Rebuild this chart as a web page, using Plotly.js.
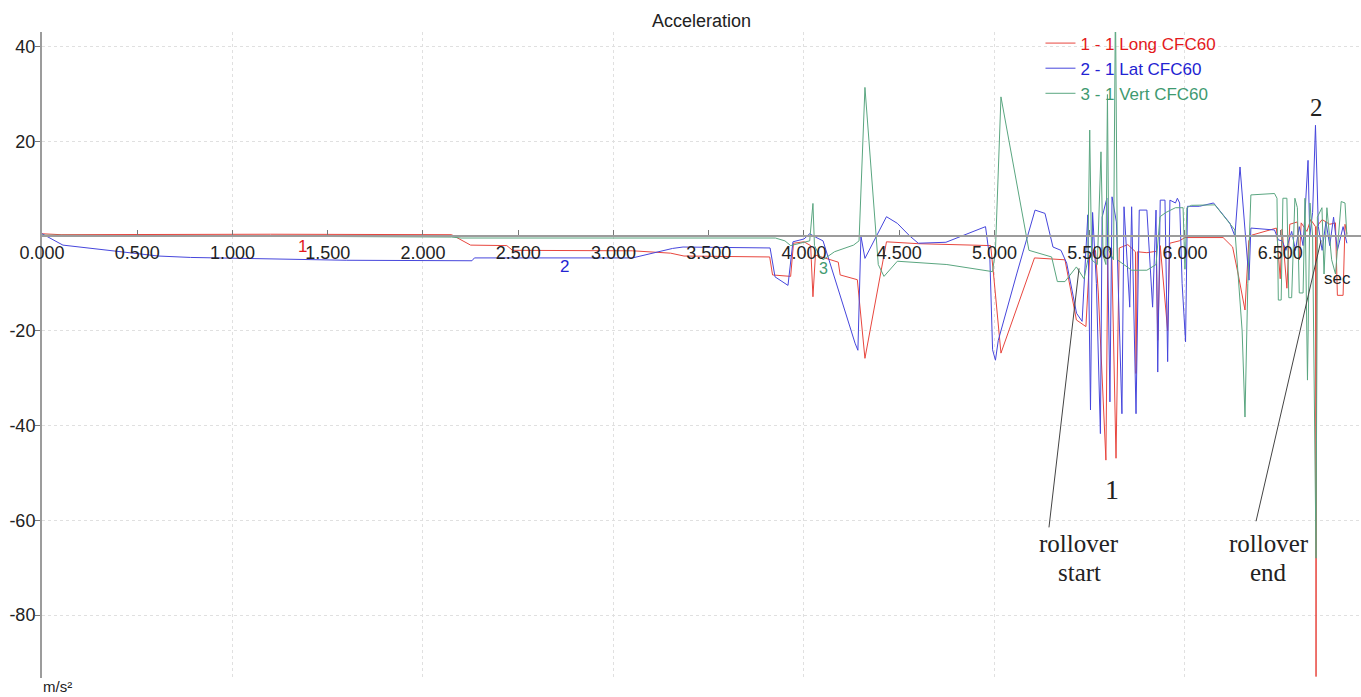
<!DOCTYPE html>
<html>
<head>
<meta charset="utf-8">
<script src="https://cdn.plot.ly/plotly-3.0.1.min.js"></script>
<style>html,body{margin:0;padding:0;background:#fff;}#chart{width:1361px;height:697px;}</style>
</head>
<body>
<div id="chart"></div>
<script>
// ---- data (time in s, acceleration in m/s²) ----
const longT = [0, 0.10, 1.20, 2.15, 2.25, 2.44, 2.47, 3.10, 3.30, 3.37, 3.82, 3.835, 3.93, 3.945, 4.00, 4.035, 4.047, 4.06, 4.10, 4.18, 4.19, 4.28, 4.32, 4.433, 4.60, 4.98, 4.995, 5.034, 5.21, 5.37, 5.43, 5.48, 5.50, 5.53, 5.545, 5.585, 5.595, 5.615, 5.638, 5.655, 5.70, 5.74, 5.743, 5.75, 5.80, 5.85, 5.857, 5.87, 5.909, 5.92, 5.97, 6.00, 6.20, 6.25, 6.28, 6.315, 6.335, 6.35, 6.48, 6.50, 6.51, 6.535, 6.55, 6.59, 6.60, 6.61, 6.64, 6.66, 6.685, 6.688, 6.692, 6.72, 6.76, 6.79, 6.80, 6.83, 6.84, 6.85];
const longV = [0.5, 0.3, 0.4, 0.3, -1.9, -2.0, -3.0, -3.1, -3.6, -4.2, -4.4, -8.2, -8.5, -1.5, -1.2, -2.0, -12.8, -4.0, -4.5, -5.5, -8.2, -9.2, -25.8, -1.2, -1.6, -2.0, -8.0, -24.7, -4.6, -5.0, -17.7, -19.1, -4.0, -3.0, -12.0, -47.3, -3.0, -2.5, -46.9, -2.5, -1.8, -3.3, -29.0, -3.3, -3.5, -3.2, -22.0, -2.0, -20.0, -1.5, -1.0, -0.3, -0.3, -2.3, -8.2, -15.6, -1.0, 0.2, 1.7, -9.0, 1.5, -11.0, 2.5, 3.0, -5.0, 2.8, 1.0, 3.5, 2.0, -93.0, 2.0, 3.5, 2.5, 2.8, -12.5, -12.5, 2.5, 0.5];

const latT = [0, 0.11, 0.61, 0.78, 1.60, 2.257, 2.27, 3.10, 3.31, 3.365, 3.822, 3.848, 3.916, 3.942, 4.00, 4.03, 4.06, 4.10, 4.268, 4.283, 4.299, 4.32, 4.433, 4.49, 4.556, 4.60, 4.745, 4.953, 4.976, 4.99, 5.005, 5.02, 5.118, 5.213, 5.265, 5.307, 5.349, 5.379, 5.431, 5.46, 5.49, 5.504, 5.515, 5.535, 5.556, 5.565, 5.59, 5.606, 5.617, 5.64, 5.669, 5.68, 5.71, 5.72, 5.743, 5.76, 5.80, 5.83, 5.848, 5.857, 5.87, 5.895, 5.909, 5.921, 5.95, 5.96, 5.972, 5.985, 6.003, 6.013, 6.076, 6.15, 6.236, 6.262, 6.289, 6.336, 6.346, 6.47, 6.49, 6.51, 6.53, 6.56, 6.58, 6.60, 6.62, 6.646, 6.655, 6.67, 6.685, 6.70, 6.72, 6.74, 6.76, 6.78, 6.80, 6.83, 6.85];
const latV = [0.5, -1.9, -4.2, -4.5, -5.1, -5.2, -4.6, -4.6, -2.6, -2.3, -2.5, -8.6, -10.4, -1.2, -0.6, 0.5, -0.2, -1.0, -22.6, -24.1, 0.0, -4.7, 4.1, 2.7, 0.0, -1.5, -1.3, 2.0, -5.0, -24.0, -26.2, -22.0, -7.8, 5.5, 4.8, -2.3, -3.0, -5.7, -16.3, -18.0, 4.5, -36.7, 5.0, -10.0, -41.7, 4.0, 8.0, -35.0, 8.3, 3.0, -37.5, 6.2, -15.0, 6.2, -37.5, 5.5, 5.5, -15.0, 5.5, -28.7, 7.6, 7.6, -26.5, 7.6, 7.0, 8.0, 7.0, -10.0, -22.3, 6.3, 6.3, 7.0, 2.7, 0.0, 14.6, -9.3, 1.7, 1.3, -0.8, -1.0, -3.0, 1.0, -3.0, 2.0, -2.0, 16.0, 0.0, 5.0, 23.4, 2.0, -3.0, 3.0, -2.0, 4.0, -3.0, 2.0, -1.5];

const vertT = [0, 2.15, 2.20, 3.85, 3.90, 3.93, 3.98, 4.03, 4.047, 4.055, 4.08, 4.10, 4.16, 4.26, 4.289, 4.32, 4.39, 4.42, 4.49, 4.75, 4.99, 5.005, 5.034, 5.181, 5.30, 5.33, 5.37, 5.43, 5.47, 5.49, 5.50, 5.51, 5.54, 5.559, 5.57, 5.585, 5.593, 5.60, 5.625, 5.635, 5.645, 5.68, 5.72, 5.80, 5.848, 5.869, 5.90, 5.95, 5.99, 6.00, 6.01, 6.034, 6.157, 6.262, 6.30, 6.315, 6.33, 6.346, 6.47, 6.483, 6.49, 6.505, 6.514, 6.535, 6.545, 6.56, 6.577, 6.59, 6.60, 6.62, 6.63, 6.643, 6.656, 6.67, 6.688, 6.695, 6.719, 6.73, 6.745, 6.77, 6.79, 6.82, 6.84, 6.85];
const vertV = [0.2, -0.2, -0.4, -0.4, -1.0, -2.0, -1.5, -1.0, 6.9, -2.0, -4.0, -5.0, -3.3, -1.9, -1.0, 31.4, -6.0, -8.5, -5.3, -6.0, -7.5, -3.0, 29.4, -3.0, -4.4, -9.6, -9.6, -6.5, -9.0, -5.0, 22.4, -5.0, -6.0, 17.8, -4.0, -6.0, 29.9, -3.0, -5.0, 50.0, -5.0, -6.0, -7.2, -7.2, -6.0, 4.1, 5.0, 6.0, 6.0, -7.0, 6.0, 6.5, 6.6, 1.3, -20.0, -38.2, -10.0, 8.7, 9.0, 8.0, -13.5, -13.5, 8.0, 8.0, -13.0, -13.0, 8.0, 6.0, -12.0, -12.0, 8.0, -30.4, 7.0, 0.0, -68.0, 4.0, 6.0, -8.0, 6.0, -5.0, -8.0, 7.3, 7.0, 0.0];

const seriesNames = ['1 - 1 Long CFC60', '2 - 1 Lat CFC60', '3 - 1 Vert CFC60'];
const xRange = [0, 6.924];
const yRange = [-93.3, 43.1];
const yTickVals = [40, 20, -20, -40, -60, -80];
const yTickText = ['40', '20', '-20', '-40', '-60', '-80'];

// ---- styling ----
const FONT = 'Liberation Sans, Arial, sans-serif';
const SERIF = 'Liberation Serif, Times New Roman, serif';
const lineColors = ['#e8463e', '#4646dc', '#5aa680'];
const textColors = ['#e31a1c', '#2323d2', '#3f9a70'];
const grid = '#e0e0e0';

const xs = [longT, latT, vertT];
const ys = [longV, latV, vertV];
const traces = xs.map((x, i) => ({
  type: 'scatter', mode: 'lines', x: x, y: ys[i], xaxis: 'x', yaxis: 'y',
  name: '<span style="color:' + textColors[i] + '">' + seriesNames[i] + '</span>',
  line: {color: lineColors[i], width: 1},
  hoverinfo: 'skip'
}));
// carrier for the labelled time axis (drawn at y = 0)
traces.push({type: 'scatter', mode: 'lines', x: xRange, y: [0, 0], xaxis: 'x2', yaxis: 'y',
  line: {color: 'rgba(0,0,0,0)', width: 0}, showlegend: false, hoverinfo: 'skip'});

const zeroPos = (0 - yRange[0]) / (yRange[1] - yRange[0]);

const layout = {
  width: 1361, height: 697,
  margin: {l: 42, r: 0, t: 32, b: 19},
  paper_bgcolor: '#fff', plot_bgcolor: '#fff',
  font: {family: FONT, size: 18, color: '#222'},
  title: {text: 'Acceleration', font: {family: FONT, size: 18, color: '#222'},
          xref: 'paper', x: 0.5, xanchor: 'center', yref: 'container', y: 0.971, yanchor: 'middle'},
  showlegend: true,
  legend: {x: 0.757, y: 1.01, xanchor: 'left', yanchor: 'top', bgcolor: 'rgba(0,0,0,0)',
           font: {family: FONT, size: 17}, tracegroupgap: 0, itemwidth: 30},
  // grid axis (1 s spacing)
  xaxis: {range: xRange, tick0: 0, dtick: 1, showgrid: true, gridcolor: grid, griddash: 'dot', gridwidth: 1,
          showticklabels: false, ticks: '', showline: false, zeroline: false, fixedrange: true},
  // labelled time axis along y = 0
  xaxis2: {range: xRange, overlaying: 'x', anchor: 'free', position: zeroPos, showline: true,
           linecolor: '#9c9c9c', linewidth: 2, ticks: 'inside', ticklen: 5, tickcolor: '#777',
           tick0: 0, dtick: 0.5, tickformat: '.3f', showgrid: false, zeroline: false,
           tickfont: {family: FONT, size: 18, color: '#222'}, fixedrange: true},
  yaxis: {range: yRange, tickmode: 'array', tickvals: yTickVals, ticktext: yTickText,
          showline: true, linecolor: '#9c9c9c', linewidth: 2, ticklabelstandoff: -4,
          ticks: 'outside', ticklen: 5, tickcolor: '#777', showgrid: true, gridcolor: grid, griddash: 'dot',
          zeroline: false, tickfont: {family: FONT, size: 18, color: '#222'}, fixedrange: true},
  shapes: [
    {type: 'line', xref: 'x', yref: 'y', x0: 5.286, y0: -61.5, x1: 5.444, y1: -6.8, line: {color: '#444', width: 1}},
    {type: 'line', xref: 'x', yref: 'y', x0: 6.373, y0: -60.2, x1: 6.714, y1: -0.9, line: {color: '#444', width: 1}}
  ],
  annotations: [
    {text: '1', x: 1.365, y: -2.1, xref: 'x', yref: 'y', showarrow: false, font: {family: FONT, size: 17, color: '#e31a1c'}},
    {text: '2', x: 2.745, y: -6.5, xref: 'x', yref: 'y', showarrow: false, font: {family: FONT, size: 17, color: '#2323d2'}},
    {text: '3', x: 4.10, y: -6.8, xref: 'x', yref: 'y', showarrow: false, font: {family: FONT, size: 16, color: '#3f9a70'}},
    {text: 'sec', x: 6.798, y: -8.9, xref: 'x', yref: 'y', showarrow: false, font: {family: FONT, size: 17, color: '#222'}},
    {text: 'm/s²', x: 0, y: -0.013, xref: 'paper', yref: 'paper', xanchor: 'left', yanchor: 'middle', showarrow: false, borderpad: 0, font: {family: FONT, size: 15, color: '#222'}},
    {text: '1', x: 5.617, y: -53.6, xref: 'x', yref: 'y', showarrow: false, font: {family: SERIF, size: 28, color: '#222'}},
    {text: '2', x: 6.688, y: 27.2, xref: 'x', yref: 'y', showarrow: false, font: {family: SERIF, size: 25, color: '#222'}},
    {text: 'rollover', x: 5.444, y: -64.8, xref: 'x', yref: 'y', showarrow: false, font: {family: SERIF, size: 25, color: '#222'}},
    {text: 'start', x: 5.444, y: -71.0, xref: 'x', yref: 'y', showarrow: false, font: {family: SERIF, size: 25, color: '#222'}},
    {text: 'rollover', x: 6.441, y: -64.8, xref: 'x', yref: 'y', showarrow: false, font: {family: SERIF, size: 25, color: '#222'}},
    {text: 'end', x: 6.436, y: -71.0, xref: 'x', yref: 'y', showarrow: false, font: {family: SERIF, size: 25, color: '#222'}}
  ]
};

Plotly.newPlot('chart', traces, layout, {displayModeBar: false, staticPlot: true});
</script>
</body>
</html>
